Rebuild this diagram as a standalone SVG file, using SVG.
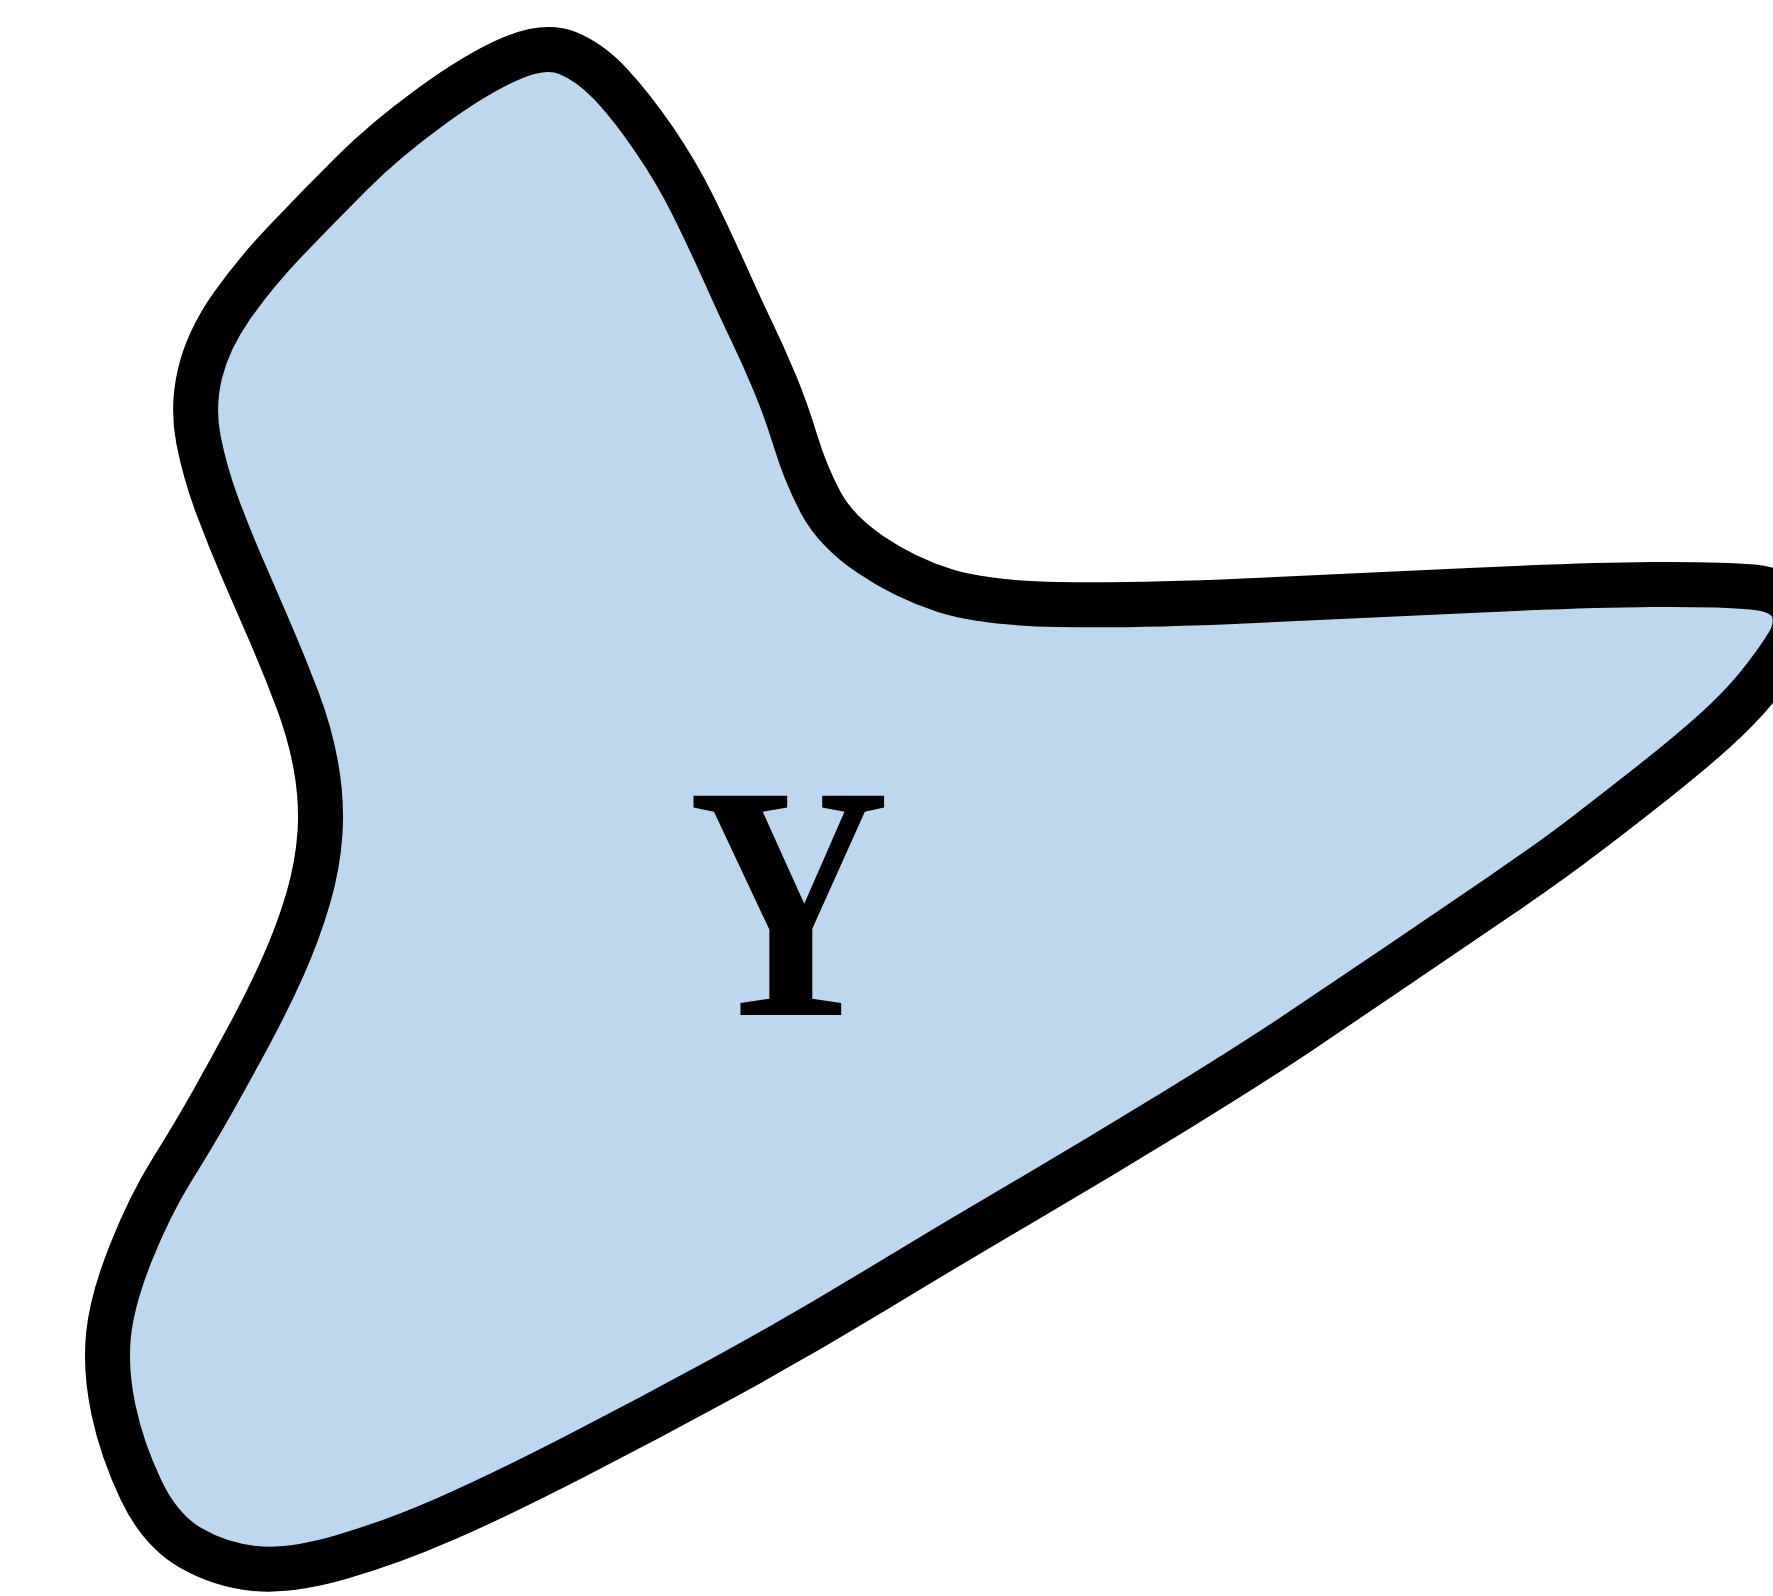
<svg xmlns="http://www.w3.org/2000/svg" width="1773" height="1596" viewBox="0 0 1773 1596">
  <style>
    .blob { fill: #BDD7EE; stroke: #000000; stroke-width: 45; stroke-linejoin: round; }
    .label { font-family: "Liberation Serif", "DejaVu Serif", serif; font-weight: bold; font-size: 335px; fill: #000000; }
  </style>
  <rect x="0" y="0" width="1773" height="1596" fill="#FFFFFF"/>
  <g id="node-Y">
    <path class="blob" d="M 511 58.5
      Q 545 44 567.5 53
      Q 590 62 611 84.5
      Q 632 107 654.5 140
      Q 677 173 693.5 206.5
      Q 710 240 725 273.5
      Q 740 307 752 332
      Q 764 357 775 383.5
      Q 786 410 796 442.5
      Q 806 475 821 503
      Q 836 531 870.5 554.5
      Q 905 578 944.5 590.5
      Q 984 603 1057.5 604.5
      Q 1131 606 1244 601
      Q 1357 596 1470 590.5
      Q 1583 585 1651.5 584.5
      Q 1720 584 1752.5 587
      Q 1785 590 1792.5 607.5
      Q 1800 625 1787.5 645
      Q 1775 665 1757.5 686.5
      Q 1740 708 1715 730.5
      Q 1690 753 1656.5 779.5
      Q 1623 806 1586.5 834
      Q 1550 862 1500 896
      Q 1450 930 1400 964
      Q 1350 998 1300 1031.5
      Q 1250 1065 1175 1111
      Q 1100 1157 1025 1201
      Q 950 1245 875 1290.5
      Q 800 1336 725 1377
      Q 650 1418 575 1456.5
      Q 500 1495 446.5 1518.5
      Q 393 1542 341.5 1557
      Q 290 1572 255 1568.5
      Q 220 1565 190 1547.5
      Q 160 1530 141 1490
      Q 122 1450 113.5 1410
      Q 105 1370 108.5 1335
      Q 112 1300 131 1252.5
      Q 150 1205 172.5 1169
      Q 195 1133 213.5 1100
      Q 232 1067 250 1033.5
      Q 268 1000 283 966.5
      Q 298 933 308 899
      Q 318 865 320 832.5
      Q 322 800 316 766.5
      Q 310 733 297.5 700
      Q 285 667 271.5 635.5
      Q 258 604 244 572
      Q 230 540 217.5 506.5
      Q 205 473 198.5 440
      Q 192 407 200 373.5
      Q 208 340 231.5 306.5
      Q 255 273 286.5 240
      Q 318 207 351.5 173.5
      Q 385 140 431 106.5
      Q 477 73 511 58.5 Z"/>
    <text class="label" transform="translate(789,1015) scale(0.83,1)" x="0" y="0" text-anchor="middle">Y</text>
  </g>
  <g id="connectors"></g>
</svg>
